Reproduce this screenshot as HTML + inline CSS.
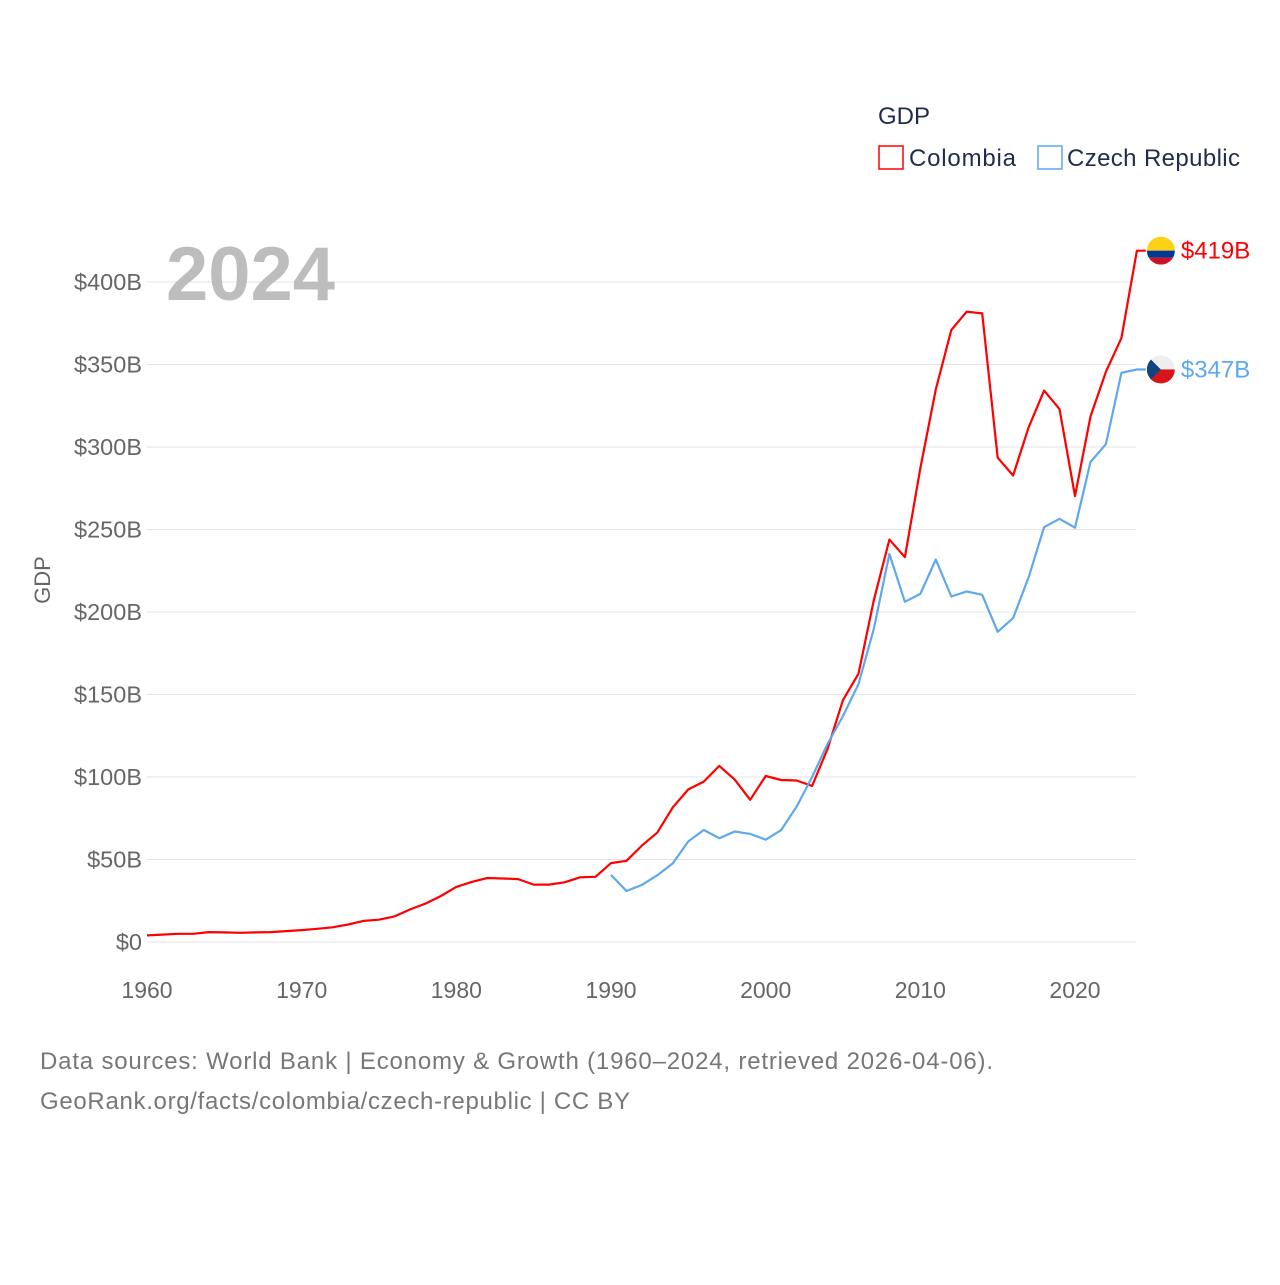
<!DOCTYPE html>
<html><head><meta charset="utf-8"><style>
body{margin:0;background:#fff;}
svg text{font-family:"Liberation Sans",sans-serif;}
</style></head><body>
<svg id="chart" width="1280" height="1280" viewBox="0 0 1280 1280" xmlns="http://www.w3.org/2000/svg">
<rect width="1280" height="1280" fill="#fff"/>
<g id="grid"></g>
<g id="yticks"></g>
<g id="xticks"></g>
<text x="166" y="300" font-size="76" font-weight="bold" fill="#bdbdbd">2024</text>
<text transform="translate(50,580) rotate(-90)" text-anchor="middle" font-size="22" fill="#666">GDP</text>
<text x="878" y="124" font-size="24" fill="#1f2d4d">GDP</text>
<g>
<rect x="879" y="146" width="24" height="23" fill="none" stroke="#f00" stroke-width="1.5"/>
<text x="909" y="166" font-size="24" fill="#1f2d4d" textLength="107">Colombia</text></g>
<g>
<rect x="1038" y="146" width="24" height="23" fill="none" stroke="#5ea8ee" stroke-width="1.5"/>
<text x="1067" y="166" font-size="24" fill="#1f2d4d" textLength="173">Czech Republic</text></g>
<g id="series"></g>
<text x="40" y="1069" font-size="24" fill="#777" textLength="953">Data sources: World Bank | Economy &amp; Growth (1960–2024, retrieved 2026-04-06).</text>
<text x="40" y="1109" font-size="24" fill="#777" textLength="590">GeoRank.org/facts/colombia/czech-republic | CC BY</text>
</svg>
<script>
const yTickValues=[0,50,100,150,200,250,300,350,400];
const yTickLabels=["$0","$50B","$100B","$150B","$200B","$250B","$300B","$350B","$400B"];
const xTickYears=[1960,1970,1980,1990,2000,2010,2020];
const colombiaStart=1960;
const colombiaValues=[4,4.5,5,5,6,5.8,5.6,5.8,6,6.6,7.2,8,8.9,10.6,12.8,13.5,15.5,19.7,23.3,27.9,33.4,36.4,38.8,38.5,38.1,34.8,34.8,36.2,39.2,39.5,47.8,49.2,58.4,66.4,81.7,92.5,97.2,106.7,98.4,86.2,100.6,98.2,97.9,94.6,117,146.6,162.6,207.4,243.9,233.2,287,334.9,370.9,382,381,293.5,282.7,311.9,334.2,323,270.3,318.5,345.6,366,419];
const czechStart=1990;
const czechValues=[40.6,30.9,34.6,40.5,47.7,61,67.9,62.9,67,65.5,62,67.8,82,100,120,137,156.3,190,235.2,206.2,211,231.8,209.4,212.5,210.4,188,196.3,221,251.4,256.5,251.1,290.9,301.7,345,347];
const endLabels=["$419B","$347B"];

const NS="http://www.w3.org/2000/svg";
const xS=yr=>147+(yr-1960)*(928/60);
const yS=v=>942-v*1.65;
function mk(tag,attrs,parent){const e=document.createElementNS(NS,tag);for(const k in attrs)e.setAttribute(k,attrs[k]);parent.appendChild(e);return e;}
const grid=document.getElementById('grid'),yt=document.getElementById('yticks'),xt=document.getElementById('xticks'),ser=document.getElementById('series');
yTickValues.forEach((v,i)=>{
  const l=mk('line',{x1:147,x2:1136,y1:yS(v),y2:yS(v),stroke:'#e3e3e3','stroke-width':1},grid);
  
  
  const t=mk('text',{x:142,y:yS(v)+8,'text-anchor':'end','font-size':23.5,fill:'#666'},yt);
  t.textContent=yTickLabels[i];
  
  
});
xTickYears.forEach(yr=>{
  const t=mk('text',{x:xS(yr),y:998,'text-anchor':'middle','font-size':23,fill:'#666'},xt);
  t.textContent=yr;
  
  
});
function drawSeries(start,vals,color,name,label,flag){
  const pts=vals.map((v,i)=>xS(start+i).toFixed(1)+','+yS(v).toFixed(1));
  const lastX=xS(start+vals.length-1),lastY=yS(vals[vals.length-1]);
  pts.push((lastX+9)+','+lastY.toFixed(1));
  const p=mk('polyline',{points:pts.join(' '),fill:'none',stroke:color,'stroke-width':2.2,'stroke-linejoin':'round'},ser);
  
  
  const g=mk('g',{},ser);
  
  
  const cx=lastX+24,cy=lastY;
  mk('clipPath',{id:'c'+name},g);
  mk('circle',{cx:cx,cy:cy,r:14},g.lastChild);
  const fg=mk('g',{'clip-path':'url(#c'+name+')'},g);
  if(flag==='co'){
    mk('rect',{x:cx-14,y:cy-14,width:28,height:14,fill:'#fcd116'},fg);
    mk('rect',{x:cx-14,y:cy,width:28,height:7,fill:'#003893'},fg);
    mk('rect',{x:cx-14,y:cy+7,width:28,height:7,fill:'#ce1126'},fg);
  }else{
    mk('rect',{x:cx-14,y:cy-14,width:28,height:14,fill:'#eee'},fg);
    mk('rect',{x:cx-14,y:cy,width:28,height:14,fill:'#d7141a'},fg);
    mk('polygon',{points:(cx-14)+','+(cy-14)+' '+(cx)+','+cy+' '+(cx-14)+','+(cy+14),fill:'#11457e'},fg);
  }
  const t=mk('text',{x:cx+20,y:cy+8,'font-size':24,fill:color},ser);
  t.textContent=label;
  
  
}
drawSeries(colombiaStart,colombiaValues,'#f00','colombia',endLabels[0],'co');
drawSeries(czechStart,czechValues,'#5ea8ee','czech-republic',endLabels[1],'cz');
</script>
</body></html>
